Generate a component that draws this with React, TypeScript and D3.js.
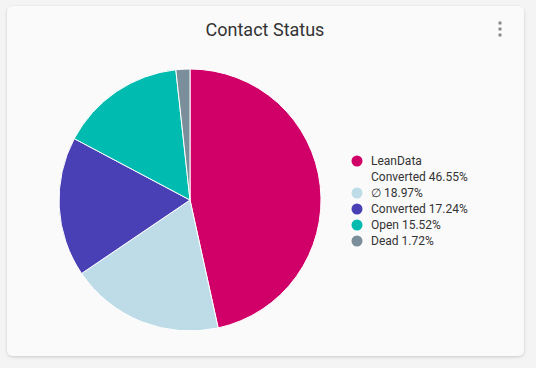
import React from "react";
import * as d3 from "d3";

const labels = ["LeanData Converted", "\u2205", "Converted", "Open", "Dead"];
const legendLines = [["LeanData", "Converted 46.55%"], ["\u2205 18.97%"], ["Converted 17.24%"], ["Open 15.52%"], ["Dead 1.72%"]];
const values = [27, 11, 10, 9, 1];
const colors = ["#d10068", "#bddce8", "#4a40b6", "#00bbb0", "#7a8f9b"];

export default function App() {
  const W = 536, H = 368;
  const cx = 190, cy = 200, r = 131;
  const pie = d3.pie<number>().sort(null).value((d) => d)(values);
  const arc = d3.arc<d3.PieArcDatum<number>>().innerRadius(0).outerRadius(r);
  let row = 0;
  const lh = 16;
  const ly0 = 161;
  return (
    <div style={{ position: "fixed", left: 0, top: 0, width: W, height: H, background: "#f4f4f4" }}>
      <svg width={W} height={H} style={{ display: "block", fontFamily: "Roboto, sans-serif" }}>
        <defs>
          <filter id="sh" x="-5%" y="-5%" width="110%" height="115%">
            <feDropShadow dx="0" dy="1" stdDeviation="1.5" floodColor="#000" floodOpacity="0.18" />
          </filter>
        </defs>
        <rect x={7} y={6} width={517} height={350} rx={6} fill="#fafafa" filter="url(#sh)" />
        <text x={265} y={36} textAnchor="middle" fontSize={18} fill="#333">Contact Status</text>
        <g fill="#888">
          {[23, 29, 35].map((y) => <rect key={y} x={498.5} y={y - 1.5} width={3} height={3} rx={0.5} />)}
        </g>
        <g transform={`translate(${cx},${cy})`}>
          {pie.map((p, i) => (
            <path key={labels[i]} d={arc(p) || ""} fill={colors[i]} stroke="#fff" strokeWidth={1} />
          ))}
        </g>
        <g fontSize={12} fill="#333">
          {legendLines.map((lines, i) => {
            const start = row;
            const els = lines.map((t, j) => {
              const y = ly0 + (row++) * lh;
              return <text key={j} x={371} y={y} dy="0.35em">{t}</text>;
            });
            return (
              <g key={i}>
                <circle cx={357} cy={ly0 + start * lh} r={5.5} fill={colors[i]} />
                {els}
              </g>
            );
          })}
        </g>
      </svg>
    </div>
  );
}
